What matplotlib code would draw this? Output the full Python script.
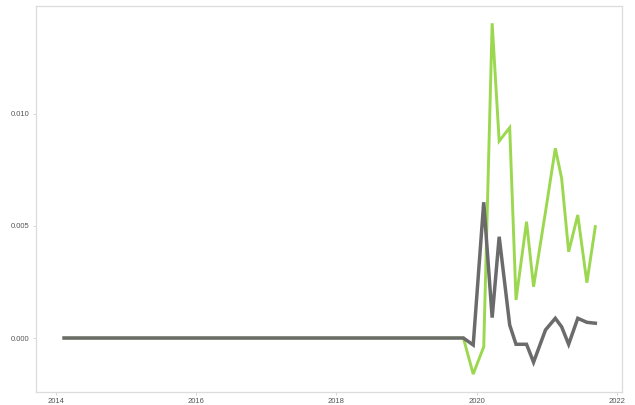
import matplotlib
matplotlib.use("Agg")
import matplotlib.pyplot as plt

# decimal-year dates for both series
dates = [2014.12, 2015.0, 2016.0, 2017.0, 2018.0, 2019.0, 2019.81,
         2019.95, 2020.10, 2020.22, 2020.32, 2020.47, 2020.56, 2020.71,
         2020.81, 2020.98, 2021.12, 2021.21, 2021.31, 2021.44, 2021.57, 2021.69]

green_vals = [0, 0, 0, 0, 0, 0, 0,
              -0.00161, -0.00039, 0.01405, 0.00879, 0.00939, 0.00170, 0.00519,
              0.00229, 0.00563, 0.00847, 0.00713, 0.00385, 0.00549, 0.00247, 0.00497]

grey_vals = [0, 0, 0, 0, 0, 0, 0,
             -0.00031, 0.00606, 0.00091, 0.00452, 0.00058, -0.00028, -0.00028,
             -0.00108, 0.00036, 0.00088, 0.00050, -0.00028, 0.00088, 0.00070, 0.00066]

x_ticks = [2014, 2016, 2018, 2020, 2022]
y_ticks = [0.0, 0.005, 0.010]
y_labels = ["0.000", "0.005", "0.010"]

plt.rcParams["font.family"] = ["Liberation Sans", "DejaVu Sans"]

fig = plt.figure(figsize=(6.35, 4.05), dpi=100)
ax = fig.add_axes([0.0567, 0.0321, 0.9228, 0.9531])

ax.plot(dates, green_vals, color="#9bd84f", lw=2.1, solid_joinstyle="miter")
# grey a touch wider so it fully hides the green where they overlap at zero
ax.plot(dates, grey_vals, color="#6b6b6b", lw=2.5, solid_joinstyle="miter")

ax.set_xlim(2013.72, 2022.07)
ax.set_ylim(-0.00241, 0.01482)
ax.set_xticks(x_ticks)
ax.set_xticklabels([str(t) for t in x_ticks])
ax.set_yticks(y_ticks)
ax.set_yticklabels(y_labels)

for s in ax.spines.values():
    s.set_color("#dcdcdc")
    s.set_linewidth(0.9)

ax.tick_params(axis="both", length=2.5, width=0.6, color="#cfcfcf",
               labelsize=5.5, labelcolor="#555555", pad=2)

fig.savefig("out.png", dpi=100)
